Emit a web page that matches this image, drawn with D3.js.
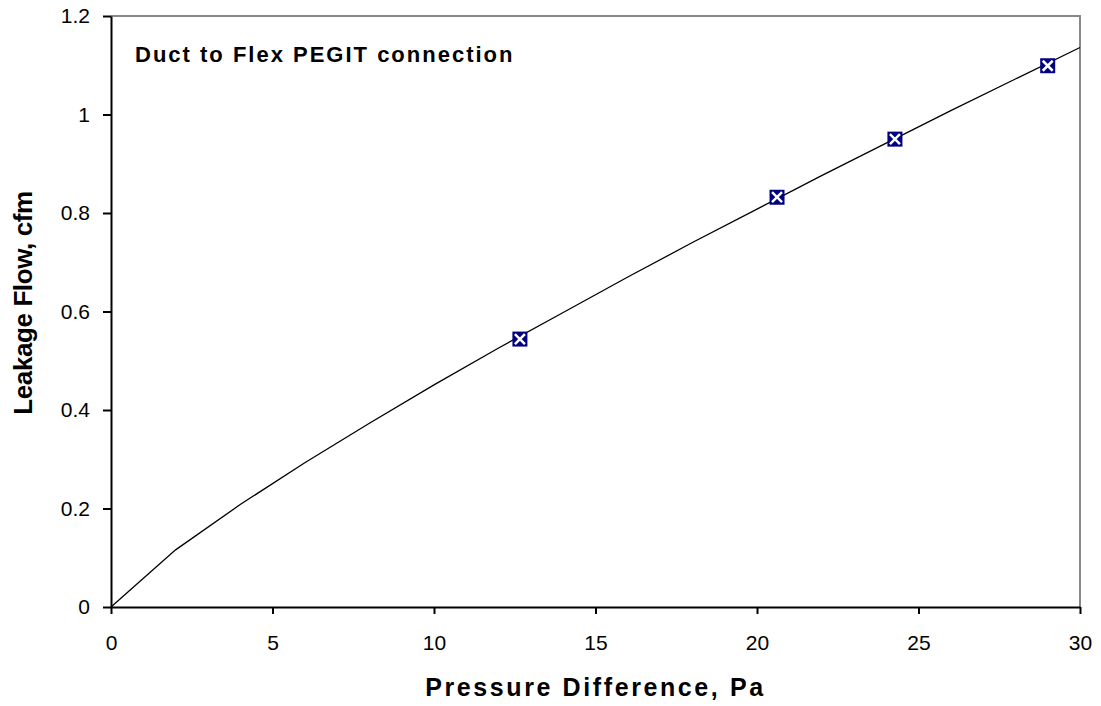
<!DOCTYPE html>
<html><head><meta charset="utf-8">
<script src="https://cdn.jsdelivr.net/npm/d3@7"></script>
<style>body{margin:0;background:#fff;} svg{display:block;font-family:"Liberation Sans",Arial,sans-serif;}</style>
</head><body>
<svg id="c" width="1101" height="706"></svg>
<script>
const curveX = [0,2,4,6,8,10,12,14,16,18,20,22,24,26,28,30];
const curveY = [0,0.116,0.208,0.293,0.373,0.451,0.526,0.598,0.670,0.740,0.808,0.876,0.942,1.008,1.072,1.136];
const pointX = [12.66,20.62,24.27,29.0];
const pointY = [0.544,0.832,0.950,1.099];
const xTicks = [0,5,10,15,20,25,30];
const yTicks = [0,0.2,0.4,0.6,0.8,1,1.2];
const title = "Duct to Flex PEGIT connection";

const svg = d3.select("#c");
const L=111,R=1080,T=16,B=607;
const x = d3.scaleLinear().domain([0,30]).range([L,R]);
const y = d3.scaleLinear().domain([0,1.2]).range([B,T]);

// border (top/right gray)
svg.append("path").attr("d",`M${L},${T}H${R}V${B}`).attr("fill","none").attr("stroke","#888").attr("stroke-width",2);

const xa = svg.append("g").attr("transform",`translate(0,${B})`)
  .call(d3.axisBottom(x).tickValues(xTicks).tickSize(7).tickSizeOuter(0).tickPadding(21).tickFormat(d3.format("d")));
const ya = svg.append("g").attr("transform",`translate(${L},0)`)
  .call(d3.axisLeft(y).tickValues(yTicks).tickSize(8).tickSizeOuter(0).tickPadding(13).tickFormat(d=>String(d)));
[xa,ya].forEach(a=>{
  a.selectAll("path,line").attr("stroke","#000").attr("stroke-width",2);
  a.selectAll("text").attr("font-size",21).attr("fill","#000").attr("font-family","Liberation Sans, Arial, sans-serif");
});

const line = d3.line().x((d,i)=>x(curveX[i])).y(d=>y(d));
svg.append("path").datum(curveY).attr("d",line).attr("fill","none").attr("stroke","#000").attr("stroke-width",1.3);

const pts = pointX.map((v,i)=>[v,pointY[i]]);
const g = svg.append("g").selectAll("g").data(pts).join("g")
  .attr("transform",d=>`translate(${x(d[0])},${y(d[1])})`);
const s=7.5;
g.append("rect").attr("x",-s).attr("y",-s).attr("width",2*s).attr("height",2*s).attr("fill","#000080");
g.append("path").attr("d",`M${-s+2.5},${-s+2.5}L${s-2.5},${s-2.5}M${s-2.5},${-s+2.5}L${-s+2.5},${s-2.5}`).attr("stroke","#fff").attr("stroke-width",2.5);

svg.append("text").attr("x",135).attr("y",62).attr("font-size",22).attr("font-weight","bold").attr("letter-spacing",2).text(title);
svg.append("text").attr("x",(L+R)/2).attr("y",696).attr("text-anchor","middle").attr("font-size",25).attr("font-weight","bold").attr("letter-spacing",2.6).text("Pressure Difference, Pa");
svg.append("text").attr("transform",`translate(32,303) rotate(-90)`).attr("text-anchor","middle").attr("font-size",26).attr("font-weight","bold").attr("letter-spacing",-0.4).text("Leakage Flow, cfm");
</script>
</body></html>
